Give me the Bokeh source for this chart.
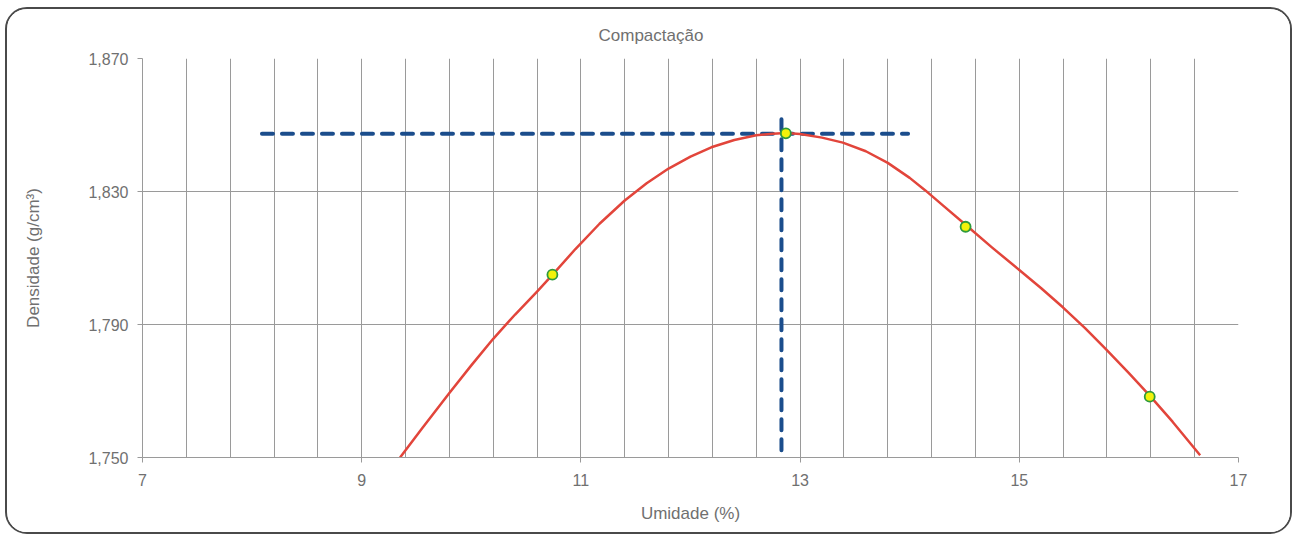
from bokeh.plotting import figure
from bokeh.models import Range1d, FixedTicker
from bokeh.embed import file_html
from bokeh.resources import INLINE

# ---- data ----
curve_x = [9.35, 9.55, 9.80, 10.00, 10.20, 10.40, 10.60, 10.74, 10.95, 11.17,
           11.40, 11.60, 11.80, 12.00, 12.19, 12.40, 12.60, 12.75, 12.87, 13.00,
           13.20, 13.39, 13.60, 13.80, 14.00, 14.14, 14.30, 14.51, 14.75, 15.00,
           15.20, 15.40, 15.60, 15.79, 16.00, 16.19, 16.40, 16.65]
curve_y = [1.7500, 1.7587, 1.7694, 1.7777, 1.7857, 1.7930, 1.7999, 1.8049, 1.8127, 1.8203,
           1.8273, 1.8325, 1.8369, 1.8405, 1.8433, 1.8455, 1.8469, 1.8474, 1.8476, 1.8473,
           1.8462, 1.8447, 1.8421, 1.8386, 1.8341, 1.8304, 1.8259, 1.8200, 1.8132, 1.8064,
           1.8009, 1.7951, 1.7889, 1.7826, 1.7754, 1.7686, 1.7607, 1.7507]
pts_x = [10.74, 12.87, 14.51, 16.19]
pts_y = [1.8050, 1.8475, 1.8194, 1.7683]
h_line_x = [8.09, 13.985]
h_line_y = [1.8474, 1.8474]
v_line_x = [12.83, 12.83]
v_line_y = [1.8517, 1.7500]
x_ticks = [7, 9, 11, 13, 15, 17]
y_ticks = [1.750, 1.790, 1.830, 1.870]
y_tick_labels = ["1,750", "1,790", "1,830", "1,870"]
title_text = "Compactação"
x_label = "Umidade (%)"
y_label = "Densidade (g/cm³)"

FONT = "Liberation Sans"
TXT = "#707070"
GRID = "#9a9a9a"

p = figure(width=1287, height=527, output_backend="svg", toolbar_location=None,
           x_range=Range1d(7, 17), y_range=Range1d(1.750, 1.870),
           min_border_left=135, min_border_right=56, min_border_top=49,
           min_border_bottom=79, background_fill_color="white",
           border_fill_color="white", outline_line_color=None)
p.styles = {"border": "2px solid #4a4a4a", "border-radius": "22px",
            "overflow": "hidden", "margin-left": "5px", "margin-top": "7px"}

p.title.text = title_text
p.title.align = "left"
p.title.offset = 456
p.title.standoff = 28
p.title.text_font = FONT
p.title.text_font_size = "17px"
p.title.text_font_style = "normal"
p.title.text_color = TXT

p.xaxis.ticker = FixedTicker(ticks=x_ticks)
p.yaxis.ticker = FixedTicker(ticks=y_ticks)
p.yaxis.major_label_overrides = {t: l for t, l in zip(y_ticks, y_tick_labels)}
p.xgrid.ticker = FixedTicker(ticks=[7 + 0.4 * i for i in range(26)])
p.ygrid.ticker = FixedTicker(ticks=y_ticks)
p.xgrid.grid_line_color = GRID
p.ygrid.grid_line_color = GRID
p.xgrid.grid_line_width = 1
p.ygrid.grid_line_width = 1

for ax in (p.xaxis, p.yaxis):
    ax.axis_line_color = GRID
    ax.major_tick_line_color = GRID
    ax.minor_tick_line_color = None
    ax.major_tick_in = 0
    ax.major_tick_out = 5
    ax.major_label_text_font = FONT
    ax.major_label_text_font_size = "16px"
    ax.major_label_text_color = TXT
    ax.axis_label_text_font = FONT
    ax.axis_label_text_font_size = "17px"
    ax.axis_label_text_font_style = "normal"
    ax.axis_label_text_color = TXT
p.yaxis.major_label_standoff = 9
p.xaxis.major_label_standoff = 11
p.xaxis.axis_label = x_label
p.xaxis.axis_label_standoff = 15
p.yaxis.axis_label = y_label
p.yaxis.axis_label_standoff = 42

# dashed reference lines
p.line(h_line_x, h_line_y, line_color="#1b4d8c", line_width=4, line_dash="11 9",
       line_cap="round")
p.line(v_line_x, v_line_y, line_color="#1b4d8c", line_width=4, line_dash="11 9",
       line_cap="round")

# fitted curve
p.line(curve_x, curve_y, line_color="#e2453b", line_width=2.5, line_join="round")

# measured points
p.scatter(pts_x, pts_y, size=10, fill_color="#f2f20a", line_color="#2e9a3c",
          line_width=1.8)

open("out.html", "w").write(file_html(p, INLINE))
